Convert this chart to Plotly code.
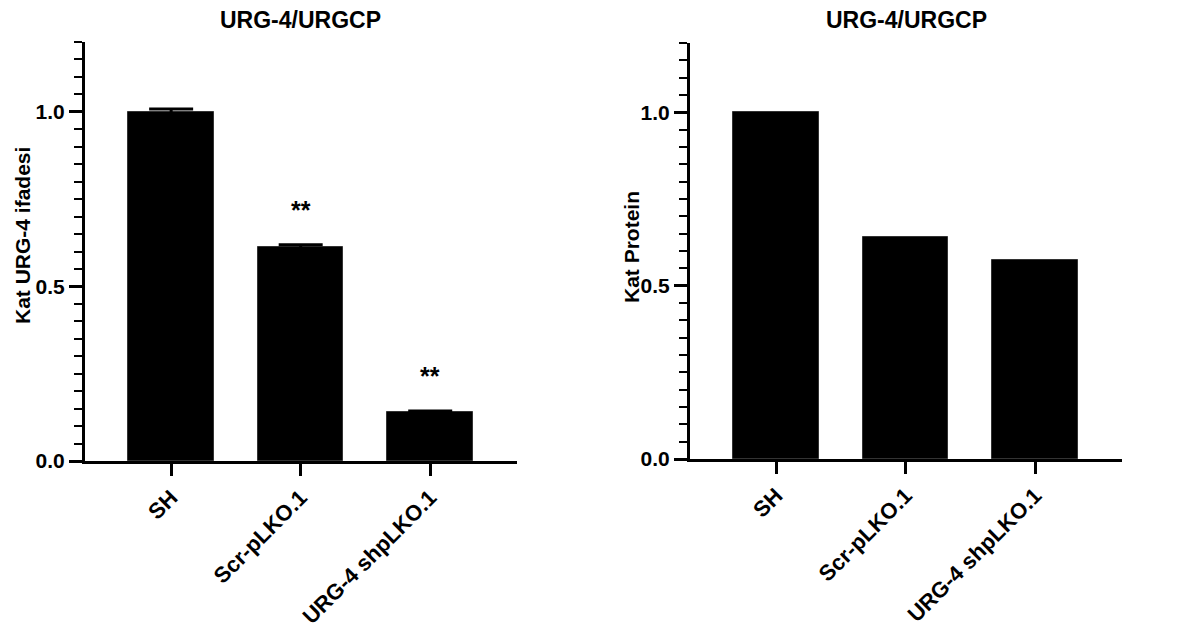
import plotly.graph_objects as go

W, H = 1178, 630

# Data
categories = ["SH", "Scr-pLKO.1", "URG-4 shpLKO.1"]
mrna_values = [1.0, 0.612, 0.139]
mrna_errors = [0.008, 0.007, 0.004]
mrna_marks = ["", "**", "**"]
protein_values = [1.0, 0.641, 0.573]
panel_title = "URG-4/URGCP"
left_ytitle = "Kat URG-4 ifadesi"
right_ytitle = "Kat Protein"
ytick_vals = [0.0, 0.5, 1.0]

FONT = "Liberation Sans, Arial, Helvetica, sans-serif"


def px_x(p):
    return p / W


def px_y(p):
    return 1 - p / H


fig = go.Figure()

fig.add_trace(go.Bar(
    x=categories, y=mrna_values, width=0.66,
    marker=dict(color="black", line=dict(color="#333", width=1)),
    error_y=dict(type="data", array=mrna_errors, visible=True,
                 color="black", thickness=3, width=22),
    xaxis="x", yaxis="y", showlegend=False,
))
fig.add_trace(go.Bar(
    x=categories, y=protein_values, width=0.66,
    marker=dict(color="black", line=dict(color="#333", width=1)),
    xaxis="x2", yaxis="y2", showlegend=False,
))

xcommon = dict(
    type="category", range=[-0.665, 2.67], showline=True, linecolor="black",
    linewidth=3, ticks="outside", ticklen=12, tickwidth=3, tickcolor="black",
    tickangle=-45, showgrid=False, zeroline=False, automargin=False,
    tickfont=dict(family=FONT, size=22, color="black", weight=700),
)
ycommon = dict(
    range=[0, 1.2], tickvals=ytick_vals, tickformat=".1f", showline=True,
    linecolor="black", linewidth=3, ticks="outside", ticklen=13, tickwidth=3,
    tickcolor="black", showgrid=False, zeroline=False, automargin=False,
    minor=dict(dtick=0.05, tick0=0, ticks="outside", ticklen=8, tickwidth=2,
               tickcolor="black", showgrid=False),
    tickfont=dict(family=FONT, size=21, color="black", weight=700),
)

fig.update_layout(
    width=W, height=H,
    margin=dict(l=0, r=0, t=0, b=0, autoexpand=False),
    paper_bgcolor="white", plot_bgcolor="white",
    bargap=0,
    xaxis=dict(domain=[px_x(85), px_x(517)], anchor="y", **xcommon),
    yaxis=dict(domain=[px_y(461), px_y(42)], anchor="x", **ycommon),
    xaxis2=dict(domain=[px_x(690), px_x(1122)], anchor="y2", **xcommon),
    yaxis2=dict(domain=[px_y(459), px_y(43)], anchor="x2", **ycommon),
)

annotations = [
    dict(text=panel_title, x=px_x(300), y=px_y(20), xref="paper", yref="paper",
         showarrow=False, xanchor="center", yanchor="middle",
         font=dict(family=FONT, size=23, color="black", weight=700)),
    dict(text=panel_title, x=px_x(906), y=px_y(20), xref="paper", yref="paper",
         showarrow=False, xanchor="center", yanchor="middle",
         font=dict(family=FONT, size=23, color="black", weight=700)),
    dict(text=left_ytitle, x=px_x(22), y=px_y(236), xref="paper", yref="paper",
         showarrow=False, textangle=-90, xanchor="center", yanchor="middle",
         font=dict(family=FONT, size=21, color="black", weight=700)),
    dict(text=right_ytitle, x=px_x(632), y=px_y(247), xref="paper", yref="paper",
         showarrow=False, textangle=-90, xanchor="center", yanchor="middle",
         font=dict(family=FONT, size=21, color="black", weight=700)),
]

# Significance marks above the error bars
for cat, v, e, m in zip(categories, mrna_values, mrna_errors, mrna_marks):
    if m:
        annotations.append(dict(
            text=m, x=cat, y=v + e, xref="x", yref="y", showarrow=False,
            xanchor="center", yanchor="bottom", yshift=19,
            font=dict(family=FONT, size=25, color="black", weight=700)))

fig.update_layout(annotations=annotations)

fig.write_html("out.html")
